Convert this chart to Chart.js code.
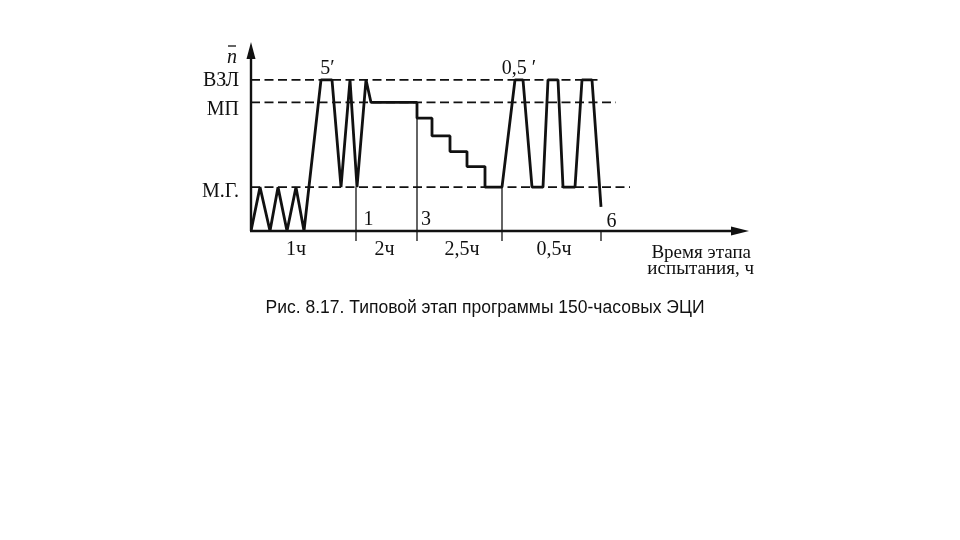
<!DOCTYPE html>
<html>
<head>
<meta charset="utf-8">
<script src="https://cdn.jsdelivr.net/npm/chart.js@4.4.1/dist/chart.umd.min.js"></script>
<style>
html,body{margin:0;padding:0;background:#fff;}
canvas{display:block;}
</style>
</head>
<body>
<canvas id="c" width="960" height="540"></canvas>
<script>
// ---- data (time in arbitrary units, relative speed n̄ in arbitrary units) ----
const levelLabels = ['М.Г.', 'МП', 'ВЗЛ'];
const levelValues = [29, 85, 100];
const levelDashEnd = [75.8, 73, 69.4];

const timeT = [0, 1.8, 3.8, 5.4, 7.2, 9, 10.6, 14, 16.2, 18, 19.8, 21.2, 23, 24,
  33.2, 33.2, 36.2, 36.2, 39.8, 39.8, 43.2, 43.2, 46.8, 46.8, 50.2,
  52.8, 54.4, 56.2, 58.4, 59.4, 61.4, 62.4, 64.8, 66.2, 68.2, 70];
const speedN = [0, 29, 0, 29, 0, 29, 0, 100, 100, 29, 100, 29, 100, 85,
  85, 74.6, 74.6, 62.9, 62.9, 52.5, 52.5, 42.6, 42.6, 29, 29,
  100, 100, 29, 29, 100, 100, 29, 29, 100, 100, 16];

const segLabels = ['1ч', '2ч', '2,5ч', '0,5ч'];
const segLabelX = [9, 26.7, 42.2, 60.6];
const markerX = [21, 33.2, 50.2, 70];
const markerTop = [29, 85, 29, 0];
const noteTexts = ['5′', '0,5 ′', '1', '3', '6'];
const noteX = [15.3, 53.6, 23.5, 35, 72.1];
const noteY = [107, 107, 7.3, 7.3, 6.2];

const X_MAX = 99.4, Y_MAX = 123;
const SERIF = '"Liberation Serif", "DejaVu Serif", serif';

const drawPlugin = {
  id: 'scheme',
  afterDatasetsDraw(chart) {
    const ctx = chart.ctx;
    const xs = chart.scales.x, ys = chart.scales.y;
    const X = v => xs.getPixelForValue(v), Y = v => ys.getPixelForValue(v);
    ctx.save();
    ctx.strokeStyle = '#111';
    ctx.fillStyle = '#111';
    // dashed level lines
    ctx.lineWidth = 1.8;
    ctx.setLineDash([9, 4.5]);
    levelValues.forEach((v, i) => {
      ctx.beginPath();
      ctx.moveTo(X(0), Y(v));
      ctx.lineTo(X(levelDashEnd[i]), Y(v));
      ctx.stroke();
    });
    ctx.setLineDash([]);
    // axes
    ctx.lineWidth = 2.4;
    ctx.beginPath();
    ctx.moveTo(X(0), Y(0)); ctx.lineTo(X(0), Y(Y_MAX) + 6);
    ctx.moveTo(X(0) - 1, Y(0)); ctx.lineTo(X(X_MAX) - 8, Y(0));
    ctx.stroke();
    // arrows
    ctx.beginPath();
    ctx.moveTo(X(0), Y(Y_MAX) - 3); ctx.lineTo(X(0) - 4.5, Y(Y_MAX) + 14); ctx.lineTo(X(0) + 4.5, Y(Y_MAX) + 14); ctx.closePath(); ctx.fill();
    ctx.beginPath();
    ctx.moveTo(X(X_MAX) + 1, Y(0)); ctx.lineTo(X(X_MAX) - 17, Y(0) - 4.5); ctx.lineTo(X(X_MAX) - 17, Y(0) + 4.5); ctx.closePath(); ctx.fill();
    // markers
    ctx.lineWidth = 1.3;
    markerX.forEach((m, i) => {
      ctx.beginPath();
      ctx.moveTo(X(m), Y(markerTop[i]));
      ctx.lineTo(X(m), Y(0) + 10);
      ctx.stroke();
    });
    // texts
    ctx.font = '20px ' + SERIF;
    ctx.textBaseline = 'middle';
    ctx.textAlign = 'right';
    const lblOff = [5, 7, 1];
    levelValues.forEach((v, i) => ctx.fillText(levelLabels[i], X(0) - 12, Y(v) + lblOff[i]));
    ctx.textAlign = 'center';
    ctx.textBaseline = 'alphabetic';
    segLabels.forEach((s, i) => ctx.fillText(s, X(segLabelX[i]), Y(0) + 24));
    ctx.textBaseline = 'middle';
    noteTexts.forEach((s, i) => ctx.fillText(s, X(noteX[i]), Y(noteY[i])));
    ctx.textAlign = 'right';
    ctx.textBaseline = 'alphabetic';
    ctx.font = '19px ' + SERIF;
    ctx.fillText('Время этапа', X(X_MAX) + 3, Y(0) + 27);
    ctx.fillText('испытания, ч', X(X_MAX) + 6, Y(0) + 43);
    // n-bar
    ctx.textAlign = 'center';
    ctx.font = 'italic 20px ' + SERIF;
    ctx.fillText('n', X(0) - 19, Y(Y_MAX) + 18);
    ctx.lineWidth = 1.3;
    ctx.beginPath(); ctx.moveTo(X(0) - 23, Y(Y_MAX) + 1); ctx.lineTo(X(0) - 15, Y(Y_MAX) + 1); ctx.stroke();
    // caption
    ctx.font = '17.5px "Liberation Sans", Arial, sans-serif';
    ctx.textAlign = 'center';
    ctx.fillText('Рис. 8.17. Типовой этап программы 150-часовых ЭЦИ', 485, 313);
    ctx.restore();
  }
};

new Chart(document.getElementById('c'), {
  type: 'line',
  data: {
    datasets: [{
      data: timeT.map((t, i) => ({x: t, y: speedN[i]})),
      borderColor: '#111',
      borderWidth: 2.8,
      pointRadius: 0,
      tension: 0,
      fill: false,
      borderJoinStyle: 'bevel'
    }]
  },
  options: {
    responsive: false,
    animation: false,
    devicePixelRatio: 1,
    layout: {padding: {left: 251, right: 212, top: 45, bottom: 309}},
    plugins: {legend: {display: false}, tooltip: {enabled: false}},
    scales: {
      x: {type: 'linear', min: 0, max: X_MAX, display: false},
      y: {type: 'linear', min: 0, max: Y_MAX, display: false}
    }
  },
  plugins: [drawPlugin]
});
</script>
</body>
</html>
